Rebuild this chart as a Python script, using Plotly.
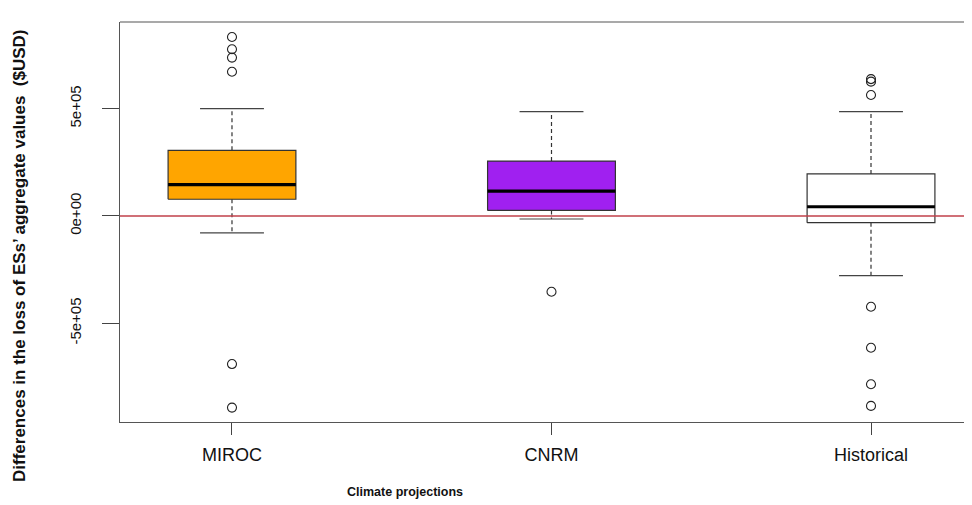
import plotly.graph_objects as go

# ---- data ----
categories = ["MIROC", "CNRM", "Historical"]
fill_colors = ["#FFA500", "#A020F0", "#FFFFFF"]
q1 = [78000, 26000, -31000]
median = [146000, 116000, 43000]
q3 = [306000, 256000, 196000]
lower_whisker = [-79000, -14000, -278000]
upper_whisker = [500000, 486000, 486000]
outliers = [
    [834000, 777000, 738000, 672000, -690000, -893000],
    [-353000],
    [638000, 626000, 564000, -423000, -614000, -784000, -885000],
]
ytick_vals = [-500000, 0, 500000]
ytick_text = ["-5e+05", "0e+00", "5e+05"]

BOX_HALF = 0.2
CAP_HALF = 0.1
EDGE = "#333333"
SANS = "Liberation Sans, Arial, sans-serif"

fig = go.Figure()

for i, cat in enumerate(categories):
    # whiskers (dashed)
    fig.add_trace(go.Scatter(x=[i, i, None, i, i], y=[q3[i], upper_whisker[i], None, q1[i], lower_whisker[i]],
                             mode="lines", line=dict(color=EDGE, width=1.2, dash="4px,3px"),
                             hoverinfo="skip", showlegend=False))
    # caps
    fig.add_trace(go.Scatter(x=[i - CAP_HALF, i + CAP_HALF, None, i - CAP_HALF, i + CAP_HALF],
                             y=[upper_whisker[i], upper_whisker[i], None, lower_whisker[i], lower_whisker[i]],
                             mode="lines", line=dict(color="#444444", width=1.2),
                             hoverinfo="skip", showlegend=False))
    # box
    fig.add_trace(go.Scatter(x=[i - BOX_HALF, i + BOX_HALF, i + BOX_HALF, i - BOX_HALF, i - BOX_HALF],
                             y=[q1[i], q1[i], q3[i], q3[i], q1[i]],
                             mode="lines", fill="toself", fillcolor=fill_colors[i],
                             line=dict(color=EDGE, width=1.2), name=cat, showlegend=False))
    # median
    fig.add_trace(go.Scatter(x=[i - BOX_HALF, i + BOX_HALF], y=[median[i], median[i]],
                             mode="lines", line=dict(color="black", width=3.2),
                             hoverinfo="skip", showlegend=False))
    # outliers
    fig.add_trace(go.Scatter(x=[i] * len(outliers[i]), y=outliers[i], mode="markers",
                             marker=dict(symbol="circle-open", size=9, color="#222222", line=dict(width=1.1)),
                             showlegend=False))

# zero reference line
fig.add_hline(y=0, line=dict(color="#c0404a", width=1.6), layer="above")
# top frame line
fig.add_shape(type="line", xref="paper", yref="paper", x0=0, x1=1, y0=1, y1=1,
              line=dict(color="#555555", width=1.2))

# page body has an 8px margin, so the figure is 8px smaller and margins 8px less
fig.update_layout(
    width=964, height=497,
    margin=dict(l=112, r=0, t=14, b=83),
    plot_bgcolor="white", paper_bgcolor="white",
    xaxis=dict(range=[-0.3505, 2.3161], tickvals=[0, 1, 2], ticktext=categories,
               showgrid=False, zeroline=False, showline=True, linecolor="#555555", linewidth=1.2,
               ticks="outside", ticklen=12, tickcolor="#444444", tickwidth=1.2,
               ticklabelstandoff=4,
               tickfont=dict(family=SANS, size=18, color="#111111")),
    yaxis=dict(range=[-960000, 904000], tickvals=ytick_vals, ticktext=ytick_text, tickangle=-90,
               showgrid=False, zeroline=False, showline=True, linecolor="#555555", linewidth=1.2,
               ticks="outside", ticklen=17, tickcolor="#444444", tickwidth=1.2,
               ticklabelstandoff=15,
               tickfont=dict(family=SANS, size=15, color="#111111")),
    annotations=[
        dict(text="<b>Differences in the loss of ESs’ aggregate values  ($USD)</b>", textangle=-90,
             xref="paper", yref="paper", x=(19 - 120) / 852, y=(422 - 256) / 400,
             xanchor="center", yanchor="middle", showarrow=False,
             font=dict(family=SANS, size=17, color="#111111")),
        dict(text="<b>Climate projections</b>",
             xref="paper", yref="paper", x=(405 - 120) / 852, y=(422 - 492) / 400,
             xanchor="center", yanchor="middle", showarrow=False,
             font=dict(family=SANS, size=12.5, color="#111111")),
    ],
)

fig.write_html("out.html")
